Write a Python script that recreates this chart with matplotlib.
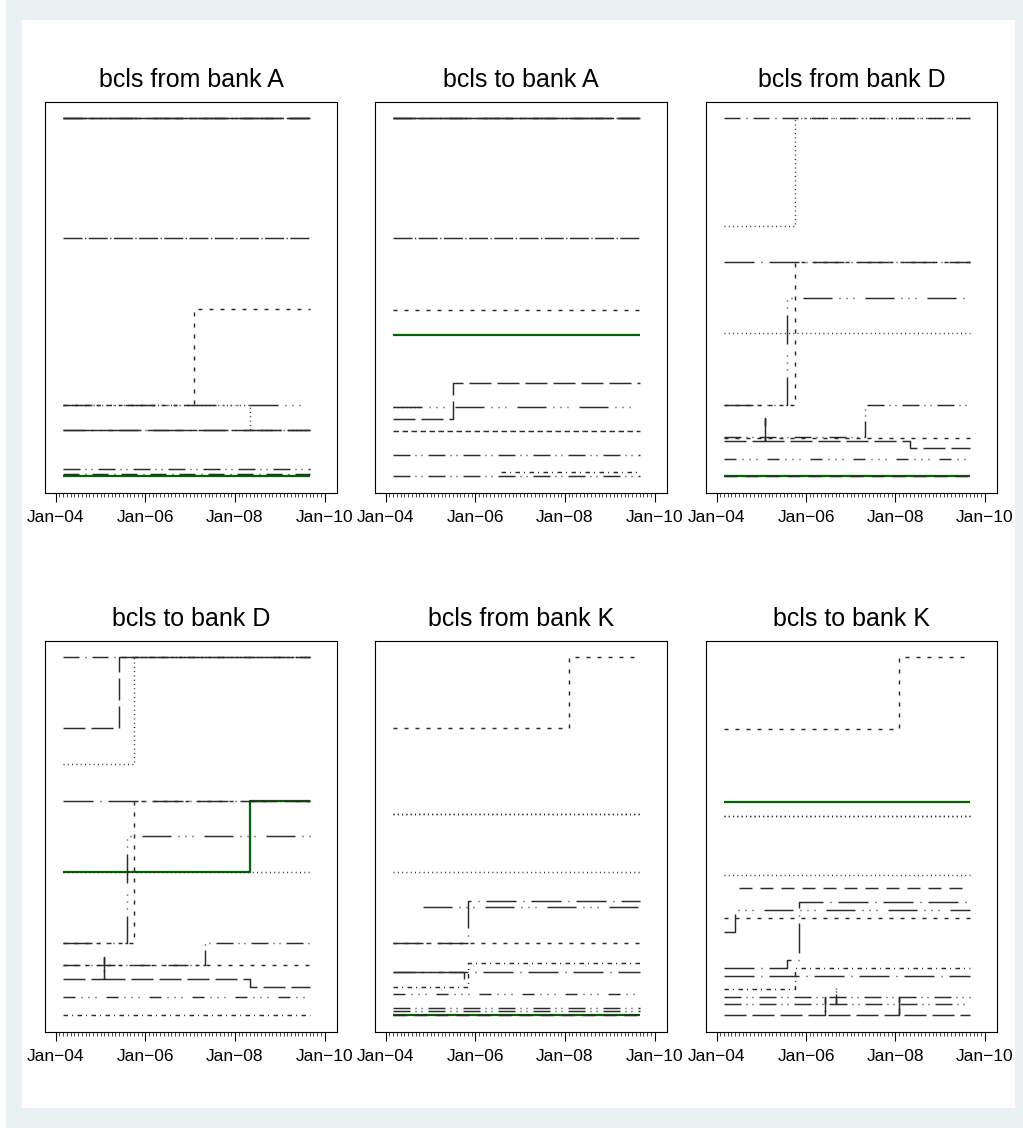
import matplotlib
matplotlib.use("Agg")
import matplotlib.pyplot as plt
import pandas as pd
from matplotlib import font_manager
from matplotlib.patches import Rectangle
from matplotlib.ticker import FixedLocator, FixedFormatter, NullLocator

# --- panel titles / axis labels ---
TITLES = ["bcls from bank A", "bcls to bank A", "bcls from bank D",
          "bcls to bank D", "bcls from bank K", "bcls to bank K"]
TICK_DATES = ["2004-01", "2006-01", "2008-01", "2010-01"]
TICK_LABELS = ["Jan\u221204", "Jan\u221206", "Jan\u221208", "Jan\u221210"]
LAST_MONTH = "2009-09"

# --- step series: (month of change, level); None = series stops there ---
FROM_A = {
    "s01": [("2004-03", 100)],
    "s02": [("2004-03", 100)],
    "s03": [("2004-03", 100)],
    "s16": [("2004-03", 66.4)],
    "s05": [("2004-03", 19.9), ("2007-02", 46.6)],
    "s10": [("2004-03", 19.9)],
    "s07": [("2004-03", 19.9), ("2008-05", 13.0)],
    "s14": [("2004-03", 13.0)],
    "s15": [("2004-03", 13.0)],
    "s08": [("2004-03", 1.9)],
    "s04": [("2004-03", 0.7)],
    "s12": [("2004-03", 0)],
}
TO_A = {
    "s01": [("2004-03", 100)],
    "s02": [("2004-03", 100)],
    "s03": [("2004-03", 100)],
    "s16": [("2004-03", 66.4)],
    "s05": [("2004-03", 46.4)],
    "s12": [("2004-03", 39.4)],
    "s14": [("2004-03", 15.9), ("2005-07", 26.1)],
    "s10": [("2004-03", 19.4)],
    "s07": [("2004-03", 19.4), ("2004-11", None)],
    "s06": [("2004-03", 12.7)],
    "s08": [("2004-03", 5.9)],
    "s17": [("2004-03", 0)],
    "s11": [("2006-08", 1.0)],
}
FROM_D = {
    "s04": [("2004-03", 100)],
    "s07": [("2004-03", 70.0), ("2005-10", 100)],
    "s03": [("2004-03", 59.8)],
    "s05": [("2004-03", 19.9), ("2005-10", 59.8)],
    "s10": [("2004-03", 19.9), ("2005-08", 49.8)],
    "s13": [("2004-03", 39.9)],
    "s08": [("2004-03", 10.8), ("2007-05", 19.9)],
    "s18": [("2004-03", 10.7)],
    "s14": [("2004-03", 9.9), ("2005-02", 16.1), ("2005-02", 9.9), ("2008-05", 7.7)],
    "s09": [("2004-03", 4.8)],
    "s12": [("2004-03", 0)],
    "s22": [("2004-03", 0)],
}
TO_D = {
    "s04": [("2004-03", 100)],
    "s02": [("2004-03", 80.1), ("2005-06", 100)],
    "s07": [("2004-03", 70.2), ("2005-10", 100)],
    "s03": [("2004-03", 59.9)],
    "s12": [("2004-03", 39.9), ("2008-05", 59.9)],
    "s13": [("2004-03", 39.9)],
    "s10": [("2004-03", 20.0), ("2005-08", 50.0)],
    "s05": [("2004-03", 20.0), ("2005-10", 59.9)],
    "s08": [("2004-03", 14.0), ("2007-05", 20.0)],
    "s18": [("2004-03", 14.0)],
    "s14": [("2004-03", 10.0), ("2005-02", 16.3), ("2005-02", 10.0), ("2008-05", 7.9)],
    "s09": [("2004-03", 4.9)],
    "s11": [("2004-03", 0)],
}
FROM_K = {
    "s05": [("2004-03", 80.1), ("2008-02", 100)],
    "s07": [("2004-03", 56.2)],
    "s13": [("2004-03", 56.2)],
    "s21": [("2004-03", 39.9)],
    "s03": [("2004-03", 20.1), ("2005-11", 32.0)],
    "s10": [("2004-11", 30.2)],
    "s18": [("2004-03", 20.1)],
    "s11": [("2004-03", 7.8), ("2005-11", 14.5)],
    "s15": [("2004-03", 12.0)],
    "s14": [("2004-03", 12.0), ("2005-10", 9.8), ("2005-10", None)],
    "s09": [("2004-03", 5.9)],
    "s08": [("2004-03", 2.0)],
    "s17": [("2004-03", 1.1)],
    "s12": [("2004-03", 0)],
    "s22": [("2004-03", 0)],
}
TO_K = {
    "s05": [("2004-03", 79.9), ("2008-02", 100)],
    "s12": [("2004-03", 59.6)],
    "s07": [("2004-03", 55.7)],
    "s13": [("2004-03", 55.7)],
    "s21": [("2004-03", 39.1)],
    "s22": [("2004-07", 35.4)],
    "s03": [("2004-03", 13.1), ("2005-08", 15.4), ("2005-11", 31.6)],
    "s10": [("2004-03", 23.2), ("2004-06", 29.4)],
    "s18": [("2004-03", 27.1)],
    "s11": [("2004-03", 7.3), ("2005-10", 13.1)],
    "s15": [("2004-03", 10.9)],
    "s08": [("2004-03", 5.0)],
    "s17": [("2004-03", 3.1), ("2006-09", 7.8), ("2006-09", 3.1)],
    "s02": [("2004-03", 0), ("2006-06", 5.0), ("2006-06", 0), ("2008-02", 5.0), ("2008-02", 0)],
}
PANELS = [FROM_A, TO_A, FROM_D, TO_D, FROM_K, TO_K]

# line pattern per series, dash lengths in pixels
PATTERN_OF = {
    "s01": "dashdot_tight", "s16": "dashdot_tight",
    "s02": "longdash", "s14": "longdash",
    "s03": "longdash_dot", "s15": "longdash_dot",
    "s04": "dash_dot",
    "s05": "dash", "s18": "dash",
    "s06": "shortdash",
    "s07": "dot", "s13": "dot", "s21": "dot",
    "s08": "longdash_2dot", "s17": "longdash_2dot",
    "s09": "dash_3dot",
    "s10": "longdash_3dot",
    "s11": "shortdash_dot",
    "s12": "green",
    "s22": "meddash",
}
DASHES_PX = {
    "dashdot_tight": (19, 2.5, 1.2, 2.5),
    "longdash": (22, 6),
    "meddash": (13, 8),
    "longdash_dot": (30, 7, 1, 7),
    "dash_dot": (16, 6, 1, 6),
    "dash": (4, 7),
    "shortdash": (5.5, 3.5),
    "dot": (1, 3.3),
    "longdash_2dot": (17, 5, 1, 5, 1, 6),
    "dash_3dot": (12, 6, 1, 6, 1, 6, 1, 10),
    "longdash_3dot": (29, 7, 1, 6, 1, 6, 1, 11),
    "shortdash_dot": (4.5, 4, 1, 4.5),
}

GREY = "#2a2a2a"
GREEN = "#006400"
OUTER_BG = "#EAF1F3"

names = {f.name for f in font_manager.fontManager.ttflist}
if "Liberation Sans Narrow" in names:
    FONT, TITLE_SIZE, TICK_SIZE = "Liberation Sans Narrow", 21, 14.5
else:
    FONT, TITLE_SIZE, TICK_SIZE = "Liberation Sans", 18, 12.5

plt.rcParams["font.family"] = [FONT, "DejaVu Sans"]
plt.rcParams["lines.scale_dashes"] = False

W, H = 1023, 1128
fig = plt.figure(figsize=(W / 100, H / 100), dpi=100, facecolor=OUTER_BG)
fig.patches.append(Rectangle((22 / W, 20 / H), (1015 - 22) / W, (1108 - 20) / H,
                             transform=fig.transFigure, facecolor="white",
                             edgecolor="none", zorder=-5))
fig.patches.append(Rectangle((0, 0), 6 / W, 1, transform=fig.transFigure,
                             facecolor="white", edgecolor="none", zorder=-5))

END = pd.Timestamp(LAST_MONTH)
XMIN = pd.Timestamp("2004-01-01") - pd.Timedelta(days=87)
XMAX = pd.Timestamp("2010-01-01") + pd.Timedelta(days=100)
minor_months = pd.date_range("2004-01-01", "2010-01-01", freq="MS")

col_left = [45, 375, 706]
col_w = [292, 292, 291]
row_top = [102, 641]
box_h = 391


def draw_series(ax, pts, key):
    dates = [pd.Timestamp(d) for d, _ in pts]
    vals = [v for _, v in pts]
    if vals[-1] is None:
        vals[-1] = vals[-2]
    else:
        dates.append(END)
        vals.append(vals[-1])
    style = PATTERN_OF[key]
    if style == "green":
        ax.plot(dates, vals, drawstyle="steps-post", color=GREEN, lw=1.6,
                zorder=2, solid_capstyle="butt")
    else:
        dashes = [p * 0.72 for p in DASHES_PX[style]]
        ax.plot(dates, vals, drawstyle="steps-post", color=GREY, lw=1.05,
                dashes=dashes, dash_capstyle="butt", zorder=3)


for i, (title, series) in enumerate(zip(TITLES, PANELS)):
    r, c = divmod(i, 3)
    ax = fig.add_axes([col_left[c] / W, 1 - (row_top[r] + box_h) / H,
                       col_w[c] / W, box_h / H])
    for key, pts in series.items():
        draw_series(ax, pts, key)

    ax.set_xlim(XMIN, XMAX)
    ax.set_ylim(-4.75, 104.56)
    ax.yaxis.set_major_locator(NullLocator())
    ax.xaxis.set_major_locator(FixedLocator([matplotlib.dates.date2num(pd.Timestamp(d)) for d in TICK_DATES]))
    ax.xaxis.set_major_formatter(FixedFormatter(TICK_LABELS))
    ax.xaxis.set_minor_locator(FixedLocator(matplotlib.dates.date2num(minor_months.to_pydatetime())))
    ax.tick_params(axis="x", which="major", direction="out", length=6.5, width=0.8,
                   labelsize=TICK_SIZE, pad=6, color="black")
    ax.tick_params(axis="x", which="minor", direction="out", length=2.8, width=0.5,
                   color="black")
    for sp in ax.spines.values():
        sp.set_linewidth(0.8)
        sp.set_color("black")
    ax.set_title(title, fontsize=TITLE_SIZE, pad=10.5)

fig.savefig("out.png", dpi=100, facecolor=fig.get_facecolor())
